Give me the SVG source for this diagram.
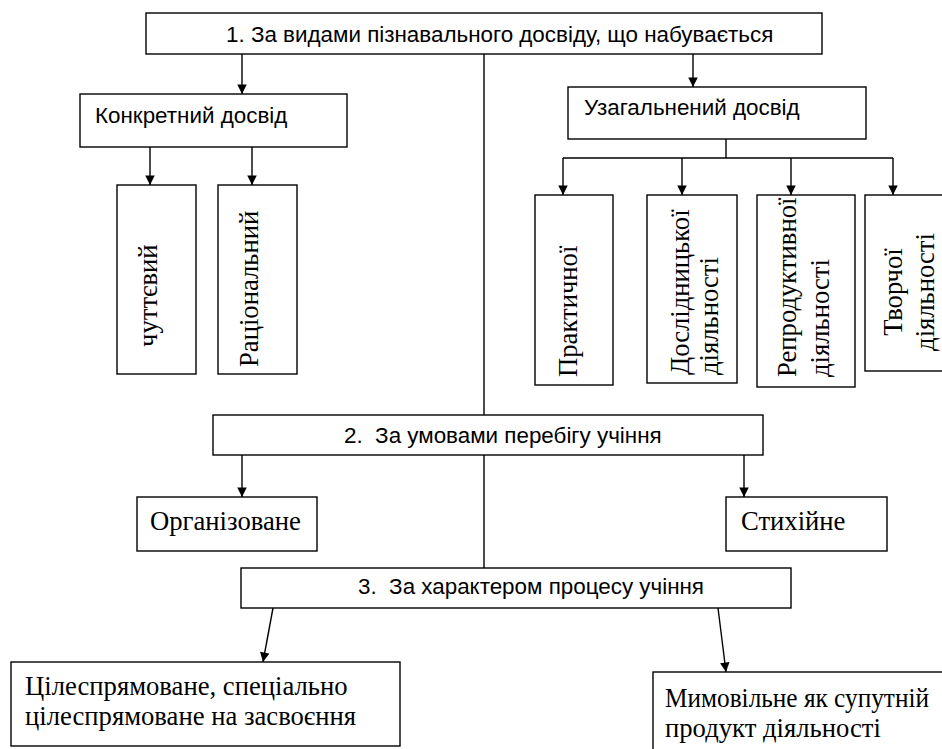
<svg xmlns="http://www.w3.org/2000/svg" width="942" height="749" viewBox="0 0 942 749">
<defs>
<style>
.box{fill:#fff;stroke:#000;stroke-width:1.4}
.ln{fill:none;stroke:#000;stroke-width:1.4}
.ar{marker-end:url(#ah)}
.sans{font-family:"Liberation Sans",Arial,sans-serif;font-size:22.4px;fill:#000}
.serif{font-family:"Liberation Serif","Times New Roman",serif;font-size:26.67px;fill:#000}
.mid{text-anchor:middle}
</style>
<marker id="ah" viewBox="0 0 10 10" refX="10" refY="5" markerWidth="11" markerHeight="9.5" markerUnits="userSpaceOnUse" orient="auto">
<path d="M0,0 L10,5 L0,10 z" fill="#000"/>
</marker>
</defs>
<rect width="942" height="749" fill="#fff"/>

<g id="connectors">
<line class="ln ar" x1="242" y1="54" x2="242" y2="94"/>
<line class="ln ar" x1="693" y1="54" x2="693" y2="87"/>
<line class="ln" x1="484" y1="54" x2="484" y2="415"/>
<line class="ln" x1="484" y1="455" x2="484" y2="568"/>
<line class="ln ar" x1="150" y1="147" x2="150" y2="185"/>
<line class="ln ar" x1="252" y1="147" x2="252" y2="185"/>
<line class="ln" x1="726" y1="139" x2="726" y2="158"/>
<line class="ln" x1="563" y1="158" x2="893" y2="158"/>
<line class="ln ar" x1="563" y1="158" x2="563" y2="195"/>
<line class="ln ar" x1="682" y1="158" x2="682" y2="195"/>
<line class="ln ar" x1="791" y1="158" x2="791" y2="195"/>
<line class="ln ar" x1="893" y1="158" x2="893" y2="195"/>
<line class="ln ar" x1="242" y1="455" x2="242" y2="497"/>
<line class="ln ar" x1="744" y1="455" x2="744" y2="497"/>
<line class="ln ar" x1="273" y1="608" x2="263" y2="662"/>
<line class="ln ar" x1="718" y1="608" x2="726" y2="672"/>
</g>

<g id="n1">
<rect class="box" x="146" y="13" width="676" height="41"/>
<text class="sans" x="226" y="42">1. За видами пізнавального досвіду, що набувається</text>
</g>
<g id="n-konkretnyi">
<rect class="box" x="80" y="94" width="267" height="53"/>
<text class="sans" x="95" y="123">Конкретний досвід</text>
</g>
<g id="n-uzahalnenyi">
<rect class="box" x="568" y="87" width="298" height="52"/>
<text class="sans" x="584" y="115">Узагальнений досвід</text>
</g>
<g id="n-chuttievyi">
<rect class="box" x="117" y="185" width="79" height="189"/>
<text class="serif" transform="translate(157,347) rotate(-90)">чуттєвий</text>
</g>
<g id="n-ratsionalnyi">
<rect class="box" x="218" y="185" width="79" height="189"/>
<text class="serif" transform="translate(258,367) rotate(-90)">Раціональний</text>
</g>
<g id="n-praktychnoi">
<rect class="box" x="535" y="195" width="78" height="190"/>
<text class="serif" transform="translate(577,377) rotate(-90)">Практичної</text>
</g>
<g id="n-doslidnytskoi">
<rect class="box" x="647" y="195" width="90" height="188"/>
<text class="serif" transform="translate(689,375) rotate(-90)"><tspan x="0" y="0">Дослідницької</tspan><tspan x="0" y="29">діяльності</tspan></text>
</g>
<g id="n-reproduktyvnoi">
<rect class="box" x="757" y="195" width="98" height="192"/>
<text class="serif" transform="translate(796,377) rotate(-90)"><tspan x="0" y="0">Репродуктивної</tspan><tspan x="0" y="33">діяльності</tspan></text>
</g>
<g id="n-tvorchoi">
<rect class="box" x="865" y="195" width="90" height="176"/>
<text class="serif mid" transform="translate(902,292) rotate(-90)"><tspan x="0" y="0">Творчої</tspan><tspan x="0" y="32">діяльності</tspan></text>
</g>
<g id="n2">
<rect class="box" x="213" y="415" width="550" height="40"/>
<text class="sans" x="344" y="443" xml:space="preserve">2.  За умовами перебігу учіння</text>
</g>
<g id="n-orhanizovane">
<rect class="box" x="137" y="497" width="180" height="54"/>
<text class="serif" x="150" y="530">Організоване</text>
</g>
<g id="n-stykhiine">
<rect class="box" x="726" y="497" width="161" height="54"/>
<text class="serif" x="741" y="530">Стихійне</text>
</g>
<g id="n3">
<rect class="box" x="241" y="568" width="550" height="40"/>
<text class="sans" x="358" y="594" xml:space="preserve">3.  За характером процесу учіння</text>
</g>
<g id="n-tsilespriamovane">
<rect class="box" x="11" y="662" width="389" height="84"/>
<text class="serif" x="25" y="695">Цілеспрямоване, спеціально</text>
<text class="serif" x="25" y="725">цілеспрямоване на засвоєння</text>
</g>
<g id="n-mymovilne">
<rect class="box" x="653" y="672" width="310" height="90"/>
<text class="serif" x="665" y="707" textLength="264" lengthAdjust="spacingAndGlyphs">Мимовільне як супутній</text>
<text class="serif" x="665" y="737">продукт діяльності</text>
</g>
</svg>
